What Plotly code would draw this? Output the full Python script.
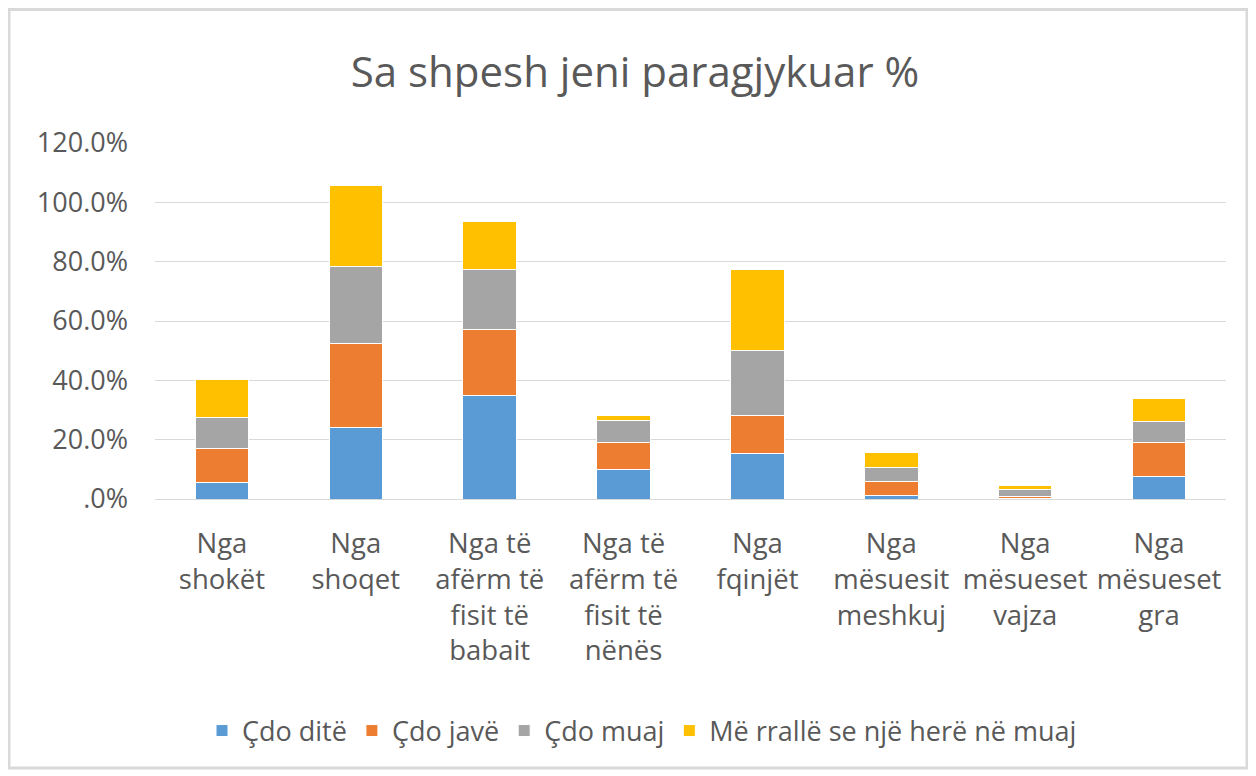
import plotly.graph_objects as go

categories = [
    "Nga<br>shokët",
    "Nga<br>shoqet",
    "Nga të<br>afërm të<br>fisit të<br>babait",
    "Nga të<br>afërm të<br>fisit të<br>nënës",
    "Nga<br>fqinjët",
    "Nga<br>mësuesit<br>meshkuj",
    "Nga<br>mësueset<br>vajza",
    "Nga<br>mësueset<br>gra",
]

series_names = ["Çdo ditë", "Çdo javë", "Çdo muaj", "Më rrallë se një herë në muaj"]
cdo_dite = [5.5, 24.0, 34.9, 10.0, 15.4, 1.2, 0.2, 7.7]
cdo_jave = [11.6, 28.4, 22.1, 8.9, 12.7, 4.7, 0.8, 11.4]
cdo_muaj = [10.4, 26.1, 20.3, 7.4, 22.0, 4.6, 2.1, 7.0]
me_ralle = [12.7, 27.1, 16.1, 1.7, 27.2, 5.3, 1.6, 7.7]

tick_vals = [0, 20, 40, 60, 80, 100, 120]
tick_text = [".0%", "20.0%", "40.0%", "60.0%", "80.0%", "100.0%", "120.0%"]

colors = ["#5B9BD5", "#ED7D31", "#A5A5A5", "#FFC000"]
series_values = [cdo_dite, cdo_jave, cdo_muaj, me_ralle]

FONT = "Open Sans"
TXT = "#595959"

fig = go.Figure()
for name, vals, col in zip(series_names, series_values, colors):
    fig.add_trace(go.Bar(
        x=categories, y=vals, name=name,
        marker=dict(color=col, line=dict(color="white", width=1)),
    ))

# the page puts the figure at an 8px offset; work in screen pixels and shift
OFF = 8
W, H = 1256 - OFF, 776 - OFF
L, R, T, B = 155 - OFF, 1226 - OFF, 143 - OFF, 499 - OFF
pw, ph = R - L, B - T

def px_x(px):
    return (px - OFF - L) / pw

def px_y(py):
    return (B - (py - OFF)) / ph

fig.update_layout(
    template="none",
    width=W, height=H,
    margin=dict(l=L, r=W - R, t=T, b=H - B, autoexpand=False),
    barmode="stack",
    bargap=0.6,
    paper_bgcolor="white",
    plot_bgcolor="white",
    font=dict(family=FONT, color=TXT, size=27),
    title=dict(
        text="Sa shpesh jeni paragjykuar %",
        font=dict(family=FONT, size=42, color=TXT),
        x=(635 - OFF) / W, xanchor="center", xref="container",
        y=1 - (72 - OFF) / H, yanchor="middle", yref="container",
    ),
    legend=dict(
        orientation="h",
        x=(642 - OFF) / W, xanchor="center", xref="container",
        y=px_y(731), yanchor="middle",
        font=dict(family=FONT, size=27, color=TXT),
        traceorder="normal",
        bgcolor="rgba(0,0,0,0)",
    ),
    showlegend=True,
    xaxis=dict(
        automargin=False,
        tickangle=0,
        showgrid=False,
        showline=True, linecolor="#D9D9D9", linewidth=1,
        ticks="",
        tickfont=dict(family=FONT, size=27.5, color=TXT),
        ticklabelstandoff=20,
    ),
    yaxis=dict(
        automargin=False,
        range=[0, 120],
        tickvals=tick_vals, ticktext=tick_text,
        showgrid=True, gridcolor="#D9D9D9", gridwidth=1,
        zeroline=False, showline=False,
        ticks="",
        tickfont=dict(family=FONT, size=27, color=TXT),
        ticklabelstandoff=26,
    ),
    shapes=[dict(
        type="rect", xref="paper", yref="paper",
        x0=px_x(9), x1=px_x(1247), y0=px_y(768), y1=px_y(9.5),
        line=dict(color="#D9D9D9", width=3), fillcolor="rgba(0,0,0,0)",
        layer="below",
    )],
)

fig.write_html("out.html")
